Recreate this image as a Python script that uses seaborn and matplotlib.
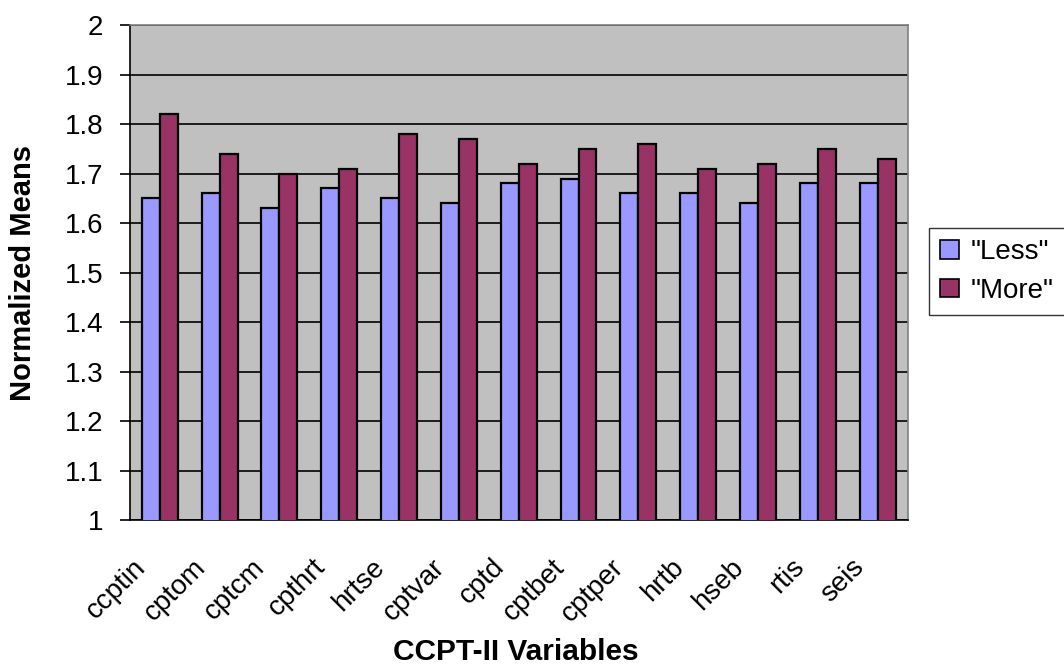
import numpy as np
import pandas as pd
import matplotlib
matplotlib.use("Agg")
import matplotlib.pyplot as plt
import matplotlib.transforms as mtransforms
import seaborn as sns

# data
variables = ["ccptin", "cptom", "cptcm", "cpthrt", "hrtse", "cptvar", "cptd",
             "cptbet", "cptper", "hrtb", "hseb", "rtis", "seis"]
less_means = [1.65, 1.66, 1.63, 1.67, 1.65, 1.64, 1.68, 1.69, 1.66, 1.66, 1.64, 1.68, 1.68]
more_means = [1.82, 1.74, 1.70, 1.71, 1.78, 1.77, 1.72, 1.75, 1.76, 1.71, 1.72, 1.75, 1.73]
groups = ['"Less"', '"More"']
y_ticks = [1, 1.1, 1.2, 1.3, 1.4, 1.5, 1.6, 1.7, 1.8, 1.9, 2]

df = pd.DataFrame({
    "variable": variables * 2,
    "group": [groups[0]] * len(variables) + [groups[1]] * len(variables),
    "mean": less_means + more_means,
})

sns.set_style("white")
plt.rcParams["font.family"] = ["Liberation Sans", "DejaVu Sans"]
plt.rcParams["text.color"] = "black"
plt.rcParams["axes.labelcolor"] = "black"
plt.rcParams["xtick.color"] = "black"
plt.rcParams["ytick.color"] = "black"

fig = plt.figure(figsize=(10.64, 6.67), dpi=100)
ax = fig.add_axes([0.122, 0.22, 0.731, 0.7425])
ax.set_facecolor("#c0c0c0")

sns.barplot(data=df, x="variable", y="mean", hue="group",
            palette=["#9999ff", "#993366"], saturation=1, width=0.6,
            edgecolor="black", linewidth=1.6, ax=ax, zorder=3)

ax.set_ylim(1, 2)
ax.set_yticks(y_ticks)
ax.set_yticklabels([f"{v:g}" for v in y_ticks], fontsize=20)
ax.yaxis.grid(True, color="black", linewidth=1.2, zorder=0)
ax.set_axisbelow(True)
ax.set_xlim(-0.5, len(variables) - 0.5)

# ticks between categories, labels at centers
ax.set_xticks(np.arange(len(variables)))
ax.set_xticklabels(variables, rotation=45, ha="right", va="center",
                   rotation_mode="anchor", fontsize=20)
ax.set_xticks(np.arange(len(variables) + 1) - 0.5, minor=True)
ax.tick_params(axis="x", which="major", length=0, pad=31)
ax.tick_params(axis="x", which="minor", length=7, width=1.2, color="black", direction="out")
ax.tick_params(axis="y", length=7, width=1.2, color="black", direction="out", left=True, pad=12)
shift = mtransforms.ScaledTranslation(-0.18, 0, fig.dpi_scale_trans)
for lab in ax.get_xticklabels():
    lab.set_transform(lab.get_transform() + shift)

for s in ax.spines.values():
    s.set_color("#808080")
    s.set_linewidth(1.2)
ax.spines["left"].set_color("black")
ax.spines["bottom"].set_color("black")

ax.set_xlabel("CCPT-II Variables", fontsize=21.5, fontweight="bold")
ax.set_ylabel("Normalized Means", fontsize=21, fontweight="bold")
ax.xaxis.set_label_coords(0.496, -0.238)
ax.yaxis.set_label_coords(-0.119, 0.5)

leg = ax.legend(loc="upper left", bbox_to_anchor=(1.028, 0.59), fontsize=20,
                frameon=True, fancybox=False, edgecolor="black",
                handlelength=0.65, handleheight=0.65, handletextpad=0.45,
                borderpad=0.4, labelspacing=0.45, borderaxespad=0)
leg.get_frame().set_linewidth(1.0)
for h in leg.legend_handles:
    h.set_edgecolor("black")
    h.set_linewidth(1.2)

fig.savefig("out.png", dpi=100)
